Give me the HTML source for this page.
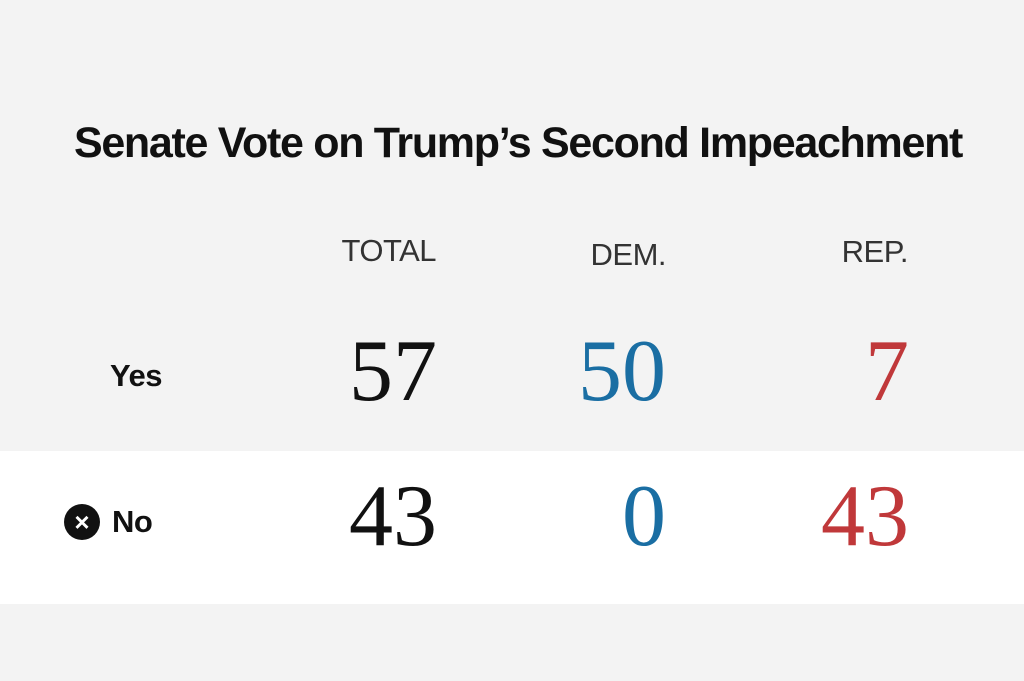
<!DOCTYPE html>
<html><head><style>
body{margin:0;width:1024px;height:681px;background:#f3f3f3;position:relative;overflow:hidden;font-family:"Liberation Sans",sans-serif}
.band{position:absolute;left:0;top:451px;width:1024px;height:153px;background:#fff}
.t{position:absolute;white-space:nowrap}
.title{left:0;width:1036px;text-align:center;top:119px;font-size:43px;font-weight:bold;letter-spacing:-1.3px;color:#111}
.h{font-size:31px;color:#333;top:233px;letter-spacing:-0.5px}
.n{font-family:"Liberation Serif",serif;font-size:88px;line-height:88px}
.lab{font-weight:bold;font-size:31px;color:#111;letter-spacing:-0.5px}
</style></head><body>
<div class="band"></div>
<div class="t title">Senate Vote on Trump’s Second Impeachment</div>
<div class="t h" style="right:588px">TOTAL</div>
<div class="t h" style="right:358px;top:237px">DEM.</div>
<div class="t h" style="right:116px;top:234px">REP.</div>
<div class="t lab" style="left:110px;top:358px">Yes</div>
<div class="t lab" style="left:112px;top:504px">No</div>
<div class="t" style="left:64px;top:504px;width:36px;height:36px;border-radius:50%;background:#111;color:#fff;font-size:26px;font-weight:bold;line-height:36px;text-align:center">×</div>
<div class="t n" style="right:587px;top:328px;color:#111">57</div>
<div class="t n" style="right:358px;top:328px;color:#1a6ea3">50</div>
<div class="t n" style="right:115px;top:328px;color:#c0383a">7</div>
<div class="t n" style="right:587px;top:473px;color:#111">43</div>
<div class="t n" style="right:358px;top:473px;color:#1a6ea3">0</div>
<div class="t n" style="right:115px;top:473px;color:#c0383a">43</div>
</body></html>
